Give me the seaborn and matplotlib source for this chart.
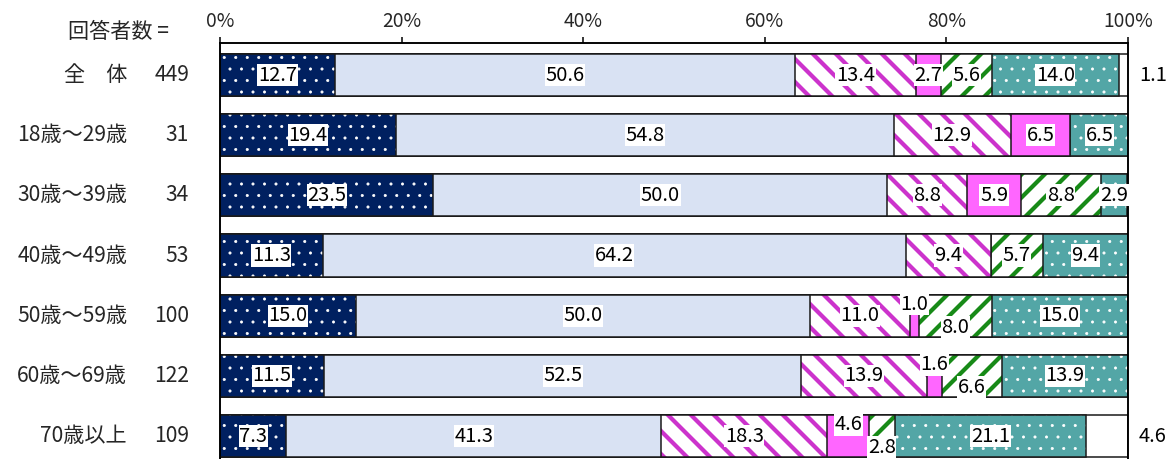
import numpy as np
import pandas as pd
import matplotlib
matplotlib.use("Agg")
import matplotlib.pyplot as plt
import matplotlib.transforms as mtransforms
from matplotlib.patches import Rectangle
import seaborn as sns

# ---------------- data ----------------
groups = ["全　体", "18歳～29歳", "30歳～39歳", "40歳～49歳", "50歳～59歳", "60歳～69歳", "70歳以上"]
counts = [449, 31, 34, 53, 100, 122, 109]
s1 = [12.7, 19.4, 23.5, 11.3, 15.0, 11.5, 7.3]
s2 = [50.6, 54.8, 50.0, 64.2, 50.0, 52.5, 41.3]
s3 = [13.4, 12.9, 8.8, 9.4, 11.0, 13.9, 18.3]
s4 = [2.7, 6.5, 5.9, 0.0, 1.0, 1.6, 4.6]
s5 = [5.6, 0.0, 8.8, 5.7, 8.0, 6.6, 2.8]
s6 = [14.0, 6.5, 2.9, 9.4, 15.0, 13.9, 21.1]
s7 = [1.1, 0.0, 0.0, 0.0, 0.0, 0.0, 4.6]
xticks = [0, 20, 40, 60, 80, 100]
xtick_labels = ["0%", "20%", "40%", "60%", "80%", "100%"]
n_title = "回答者数 ="

series = [s1, s2, s3, s4, s5, s6, s7]

# ---------------- styles ----------------
styles = [
    dict(face="#002060", hatch="..", hc="white", hlw=0.35),
    dict(face="#D9E2F3", hatch=None),
    dict(face="white", hatch="\\\\", hc="#CC33CC", hlw=2.2),
    dict(face="#FF66FF", hatch=None),
    dict(face="white", hatch="//", hc="#178A17", hlw=2.2),
    dict(face="#53A6A6", hatch="..", hc="white", hlw=0.35),
    dict(face="white", hatch=None),
]
# vertical shifts (data units) for labels of thin segments: (row, series) -> dy
label_shift = {(4, 3): -0.19, (4, 4): 0.19, (5, 3): -0.19, (5, 4): 0.19,
               (6, 3): -0.19, (6, 4): 0.19}

sns.set_theme(style="white")
plt.rcParams["font.family"] = ["Noto Sans CJK JP", "DejaVu Sans"]
plt.rcParams["axes.unicode_minus"] = False

DPI = 138
fig = plt.figure(figsize=(1174 / DPI, 459 / DPI), dpi=DPI)
ax = fig.add_axes([220 / 1174, 0.0, 908 / 1174, 1 - 43 / 459])

vals = np.array(series)          # shape (7 series, 7 groups)
cums = np.cumsum(vals, axis=0)
starts = cums - vals

# draw cumulative bars from the largest to the smallest
for k in range(len(series) - 1, -1, -1):
    st = styles[k]
    df = pd.DataFrame({"grp": groups, "cum": cums[k]})
    sns.barplot(data=df, x="cum", y="grp", orient="h", color=st["face"],
                saturation=1, width=0.7, linewidth=0, ax=ax, errorbar=None)
    cont = ax.containers[-1]
    for p in cont:
        if st["hatch"]:
            with plt.rc_context({"hatch.linewidth": st["hlw"]}):
                hp = Rectangle(p.get_xy(), p.get_width(), p.get_height(),
                               facecolor="none", edgecolor=st["hc"], linewidth=0,
                               hatch=st["hatch"])
            if hasattr(hp, "set_hatch_linewidth"):
                hp.set_hatch_linewidth(st["hlw"])
            ax.add_patch(hp)
        ep = Rectangle(p.get_xy(), p.get_width(), p.get_height(),
                       facecolor="none", edgecolor="#1a1a1a", linewidth=0.8)
        ax.add_patch(ep)

# data labels
for k, vs in enumerate(series):
    for i, v in enumerate(vs):
        if v <= 0:
            continue
        if k == len(series) - 1:
            ax.text(101.2, i, f"{v:.1f}", ha="left", va="center", fontsize=10.5,
                    color="black", clip_on=False)
            continue
        cx = starts[k][i] + v / 2
        cy = i + label_shift.get((i, k), 0.0)
        ax.text(cx, cy, f"{v:.1f}", ha="center", va="center", fontsize=10.5,
                color="black", zorder=5,
                bbox=dict(facecolor="white", edgecolor="none", pad=0.3))

# axes formatting
ax.set_xlim(0, 100)
ax.set_ylim(6.382, -0.532)
ax.set_xlabel("")
ax.set_ylabel("")
ax.set_yticks([])
ax.xaxis.tick_top()
ax.set_xticks(xticks)
ax.set_xticklabels(xtick_labels, fontsize=10)
ax.tick_params(axis="x", top=True, bottom=False, direction="out", length=3,
               width=0.8, color="black", pad=2.5, labelsize=10)
for side in ["top", "left", "right"]:
    ax.spines[side].set_visible(True)
    ax.spines[side].set_color("black")
    ax.spines[side].set_linewidth(1.0)
ax.spines["bottom"].set_visible(False)
ax.grid(False)

# row labels
trans = mtransforms.blended_transform_factory(ax.transAxes, ax.transData)
for i, (g, n) in enumerate(zip(groups, counts)):
    ax.text(-0.1024, i, g, transform=trans, ha="right", va="center", fontsize=11,
            clip_on=False)
    ax.text(-0.0341, i, str(n), transform=trans, ha="right", va="center",
            fontsize=11, clip_on=False)
fig.text(68 / 1174, 1 - 32 / 459, n_title, ha="left", va="center", fontsize=11)

fig.savefig("out.png", dpi=DPI)
